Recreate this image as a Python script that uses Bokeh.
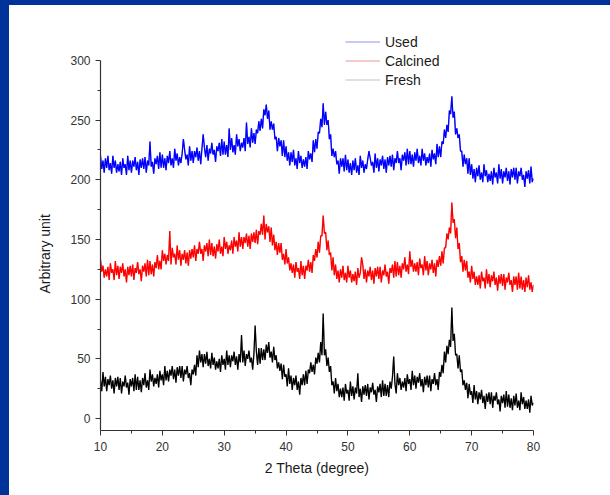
import numpy as np
from bokeh.plotting import figure
from bokeh.models import Div, Legend, LegendItem, Range1d, FixedTicker, Title
from bokeh.layouts import column, row
from bokeh.embed import file_html
from bokeh.resources import INLINE

# 2-theta scan, 0.2 degree steps from 10 to 80
two_theta = np.round(np.arange(10.0, 80.0001, 0.2), 1)

used = [
    220, 209, 216, 206, 218, 210, 220, 208, 214, 205,
    220, 210, 216, 206, 213, 207, 215, 204, 218, 210,
    213, 204, 220, 208, 216, 206, 216, 211, 219, 208,
    215, 204, 217, 210, 218, 209, 219, 206, 216, 212,
    232, 211, 215, 205, 218, 213, 220, 209, 223, 210,
    221, 210, 218, 208, 220, 214, 224, 212, 218, 210,
    226, 216, 222, 212, 219, 214, 222, 234, 225, 217,
    221, 212, 228, 216, 224, 214, 224, 219, 227, 216,
    224, 213, 226, 238, 227, 219, 229, 216, 226, 222,
    231, 221, 225, 215, 228, 224, 231, 220, 234, 221,
    232, 221, 229, 219, 243, 225, 235, 223, 229, 221,
    238, 228, 234, 224, 231, 227, 235, 224, 248, 230,
    236, 227, 243, 231, 239, 230, 242, 239, 249, 241,
    251, 243, 259, 254, 263, 251, 258, 242, 249, 242,
    247, 234, 236, 224, 235, 228, 233, 220, 233, 219,
    228, 216, 223, 212, 223, 215, 225, 212, 218, 209,
    224, 214, 220, 210, 217, 211, 219, 209, 224, 217,
    222, 215, 233, 223, 234, 226, 240, 239, 251, 244,
    264, 246, 257, 246, 250, 234, 238, 220, 226, 219,
    224, 213, 216, 205, 218, 211, 218, 207, 221, 208,
    217, 206, 214, 204, 216, 208, 218, 206, 212, 204,
    220, 210, 216, 206, 213, 209, 217, 224, 218, 212,
    215, 206, 222, 210, 218, 207, 217, 212, 220, 209,
    217, 206, 219, 212, 220, 211, 221, 208, 218, 214,
    224, 214, 218, 208, 221, 216, 223, 212, 226, 213,
    224, 213, 221, 211, 223, 216, 226, 214, 220, 212,
    226, 216, 222, 212, 219, 214, 222, 211, 225, 217,
    222, 213, 230, 219, 228, 219, 232, 230, 242, 235,
    246, 240, 258, 255, 270, 252, 257, 238, 243, 235,
    238, 224, 224, 211, 221, 213, 218, 205, 218, 204,
    213, 201, 209, 198, 210, 203, 212, 200, 206, 198,
    213, 203, 208, 198, 205, 199, 207, 196, 210, 202,
    206, 197, 213, 201, 209, 197, 207, 202, 210, 199,
    207, 196, 209, 202, 210, 200, 210, 197, 207, 203,
    210, 200, 204, 194, 207, 201, 208, 197, 211, 198,
    201,
]

calcined = [
    133, 123, 128, 118, 125, 119, 127, 116, 130, 122,
    125, 116, 132, 120, 128, 117, 127, 122, 130, 119,
    125, 114, 127, 120, 128, 119, 129, 116, 126, 122,
    131, 121, 125, 115, 128, 123, 130, 119, 133, 120,
    132, 121, 129, 119, 131, 126, 137, 125, 132, 125,
    141, 132, 138, 129, 137, 132, 157, 129, 143, 135,
    138, 129, 145, 133, 141, 128, 138, 133, 141, 130,
    139, 128, 141, 134, 142, 135, 145, 132, 142, 138,
    148, 138, 142, 132, 145, 140, 147, 136, 150, 137,
    147, 136, 144, 134, 146, 140, 150, 138, 144, 136,
    152, 142, 148, 138, 145, 141, 149, 138, 152, 144,
    149, 140, 156, 144, 152, 142, 152, 147, 155, 144,
    153, 142, 155, 148, 156, 147, 158, 146, 157, 154,
    163, 154, 170, 150, 163, 156, 161, 148, 160, 145,
    154, 141, 148, 137, 147, 139, 147, 133, 138, 129,
    142, 130, 135, 124, 130, 122, 129, 118, 131, 123,
    126, 117, 132, 120, 128, 117, 128, 124, 133, 123,
    131, 122, 137, 132, 142, 135, 148, 139, 153, 153,
    170, 155, 156, 141, 149, 137, 139, 124, 135, 120,
    129, 117, 124, 114, 125, 118, 128, 116, 122, 114,
    128, 118, 124, 114, 121, 115, 123, 112, 126, 118,
    122, 135, 129, 117, 125, 114, 124, 119, 127, 116,
    124, 113, 126, 119, 127, 117, 127, 114, 124, 120,
    129, 119, 123, 113, 126, 122, 129, 118, 132, 119,
    131, 120, 128, 118, 130, 125, 135, 123, 129, 121,
    140, 127, 133, 123, 130, 123, 131, 120, 134, 126,
    129, 120, 136, 124, 132, 120, 130, 125, 133, 122,
    130, 119, 133, 127, 136, 128, 140, 130, 143, 143,
    155, 150, 160, 155, 181, 164, 167, 151, 160, 142,
    147, 131, 136, 123, 133, 124, 132, 118, 123, 114,
    128, 117, 123, 112, 119, 112, 120, 109, 123, 115,
    118, 109, 125, 113, 121, 110, 120, 115, 123, 112,
    118, 107, 120, 113, 121, 111, 121, 108, 118, 114,
    122, 112, 116, 106, 119, 112, 119, 108, 122, 109,
    119, 108, 116, 106, 118, 110, 120, 108, 114, 106,
    112,
]

fresh = [
    32, 23, 39, 27, 35, 23, 33, 28, 36, 25,
    32, 21, 34, 27, 35, 24, 34, 21, 31, 27,
    36, 26, 30, 20, 33, 27, 34, 23, 37, 24,
    35, 24, 32, 22, 34, 28, 38, 26, 32, 24,
    41, 31, 37, 27, 34, 29, 37, 26, 40, 32,
    37, 28, 44, 32, 40, 31, 41, 36, 44, 33,
    41, 30, 43, 36, 44, 34, 44, 31, 41, 37,
    44, 34, 38, 28, 41, 37, 45, 36, 53, 43,
    57, 47, 54, 43, 54, 46, 56, 44, 50, 42,
    55, 45, 51, 41, 48, 42, 50, 39, 53, 45,
    50, 41, 57, 45, 53, 43, 53, 48, 56, 45,
    52, 41, 54, 47, 70, 47, 57, 44, 54, 50,
    57, 47, 51, 41, 54, 78, 56, 45, 59, 46,
    59, 49, 58, 49, 62, 55, 64, 51, 56, 47,
    60, 49, 53, 42, 47, 40, 46, 33, 45, 35,
    37, 27, 42, 29, 36, 24, 34, 28, 36, 24,
    31, 20, 34, 28, 37, 28, 40, 29, 41, 38,
    47, 39, 45, 37, 51, 46, 55, 47, 64, 53,
    88, 53, 58, 44, 51, 39, 44, 28, 31, 21,
    34, 23, 29, 18, 25, 18, 26, 15, 29, 21,
    24, 15, 31, 19, 27, 16, 26, 21, 38, 18,
    25, 14, 27, 20, 28, 19, 29, 16, 26, 22,
    30, 20, 24, 14, 27, 22, 29, 18, 32, 19,
    29, 19, 28, 18, 31, 25, 35, 52, 29, 21,
    38, 28, 34, 24, 31, 26, 34, 23, 37, 29,
    33, 24, 40, 28, 36, 25, 35, 30, 38, 27,
    33, 22, 35, 28, 36, 26, 36, 23, 33, 29,
    38, 28, 33, 24, 39, 35, 45, 38, 56, 47,
    61, 54, 66, 60, 93, 65, 71, 53, 54, 42,
    53, 39, 41, 28, 32, 24, 30, 17, 29, 20,
    23, 13, 28, 16, 23, 12, 22, 16, 24, 13,
    19, 8, 21, 14, 22, 12, 22, 9, 19, 15,
    22, 12, 16, 6, 19, 13, 20, 9, 23, 10,
    20, 9, 17, 7, 19, 11, 21, 9, 15, 7,
    22, 12, 18, 8, 15, 8, 16, 5, 19, 11,
    13,
]

series_names = ["Used", "Calcined", "Fresh"]
x_ticks = [10, 20, 30, 40, 50, 60, 70, 80]
y_ticks = [0, 50, 100, 150, 200, 250, 300]

FONT = "Liberation Sans"
FRAME_BLUE = "#003399"

# the y range runs past 300 so the key above the top tick stays inside the frame;
# the axis line itself is bounded to -10..300
p = figure(
    width=601, height=490,
    x_range=Range1d(10, 80), y_range=Range1d(-10, 325),
    output_backend="svg", toolbar_location=None,
    min_border_left=91, min_border_right=77,
    min_border_top=25, min_border_bottom=65,
)
p.outline_line_color = None
p.grid.visible = False
p.background_fill_color = "white"
p.border_fill_color = "white"

series = {"Used": used, "Calcined": calcined, "Fresh": fresh}
trace_colors = {"Used": "#0000ff", "Calcined": "#ff0000", "Fresh": "#000000"}
key_colors = {"Used": "#8f8ff2", "Calcined": "#f29494", "Fresh": "#c4c4c4"}

# pale copies sit under each trace and only show up as the key samples
key_renderers = {}
for name in series_names:
    key_renderers[name] = p.line(two_theta, series[name],
                                 line_color=key_colors[name], line_width=1.1)

for name in ("Fresh", "Calcined", "Used"):
    p.line(two_theta, series[name], line_color=trace_colors[name], line_width=1.3)

items = [LegendItem(label=name, renderers=[key_renderers[name]]) for name in series_names]
legend = Legend(items=items, location=(245, 341))
legend.background_fill_alpha = 0
legend.border_line_alpha = 0
legend.padding = 0
legend.margin = 0
legend.spacing = 0
legend.glyph_width = 35
legend.glyph_height = 19
legend.label_height = 19
legend.label_standoff = 5
legend.label_text_font = FONT
legend.label_text_font_size = "14px"
legend.label_text_color = "#1a1a1a"
p.add_layout(legend)

p.xaxis.ticker = FixedTicker(ticks=x_ticks, minor_ticks=[15, 25, 35, 45, 55, 65, 75])
p.yaxis.ticker = FixedTicker(ticks=y_ticks, minor_ticks=[25, 75, 125, 175, 225, 275])
p.yaxis.bounds = (-10, 300)
p.xaxis.axis_label = "2 Theta (degree)"

for ax in (p.xaxis[0], p.yaxis[0]):
    ax.axis_line_color = "#333333"
    ax.axis_line_width = 1.2
    ax.major_tick_line_color = "#333333"
    ax.minor_tick_line_color = "#333333"
    ax.major_tick_out = 5
    ax.major_tick_in = 0
    ax.minor_tick_out = 3
    ax.minor_tick_in = 0
    ax.major_label_text_font = FONT
    ax.major_label_text_font_size = "12px"
    ax.major_label_text_color = "#333333"
    ax.axis_label_text_font = FONT
    ax.axis_label_text_font_size = "14px"
    ax.axis_label_text_font_style = "normal"
    ax.axis_label_text_color = "#1a1a1a"

p.xaxis.major_label_standoff = 6
p.xaxis.axis_label_standoff = 6
p.yaxis.major_label_standoff = 5

# y title centred on the 0..300 span of the axis, not on the whole frame
y_title = Title(text="Arbitrary unit", align="left", offset=137, standoff=30,
                text_font=FONT, text_font_size="14px", text_font_style="normal",
                text_color="#1a1a1a")
p.add_layout(y_title, "left")

top_band = Div(text="", width=610, height=5, margin=0,
               styles={"background-color": FRAME_BLUE})
left_band = Div(text="", width=9, height=490, margin=0,
                styles={"background-color": FRAME_BLUE})
page = column(top_band, row(left_band, p, spacing=0), spacing=0)

open("out.html", "w").write(file_html(page, INLINE))
